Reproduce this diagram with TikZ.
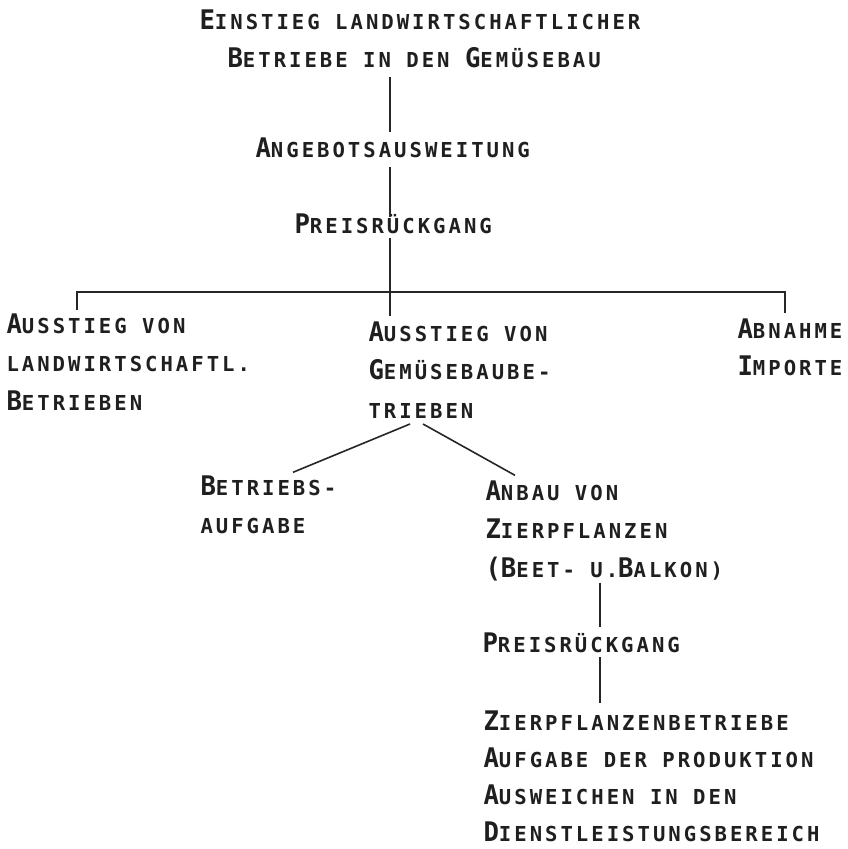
\documentclass[tikz,border=0pt]{standalone}
\usepackage{fontspec}
\newfontfamily\bigf[FakeStretch=0.95]{DejaVuSansMono-Bold.ttf}
\newfontfamily\smallf[LetterSpace=14.6]{DejaVuSansMono-Bold.ttf}
\newcommand\B[1]{{\fontsize{27pt}{27pt}\bigf #1}}
\newcommand\ML[2][38.5pt]{\vtop{\baselineskip=#1\lineskiplimit=-100pt\lineskip=0pt\relax #2}}
\newcommand\txtfont{\fontsize{20.6pt}{38.5pt}\smallf\spaceskip=15.4pt\xspaceskip=15.4pt\relax}
\tikzset{
  txt/.style={anchor=base west, inner sep=0pt, outer sep=0pt, font=\txtfont, text=black!88},
  conn/.style={line width=1.6pt, black!85}
}
\begin{document}
\begin{tikzpicture}[x=1pt,y=-1pt]
\fill[white] (0,0) rectangle (847,849);
\useasboundingbox (0,0) rectangle (847,849);

\node[txt] (title) at (199.5,29) {\ML{\hbox{\B{E}INSTIEG LANDWIRTSCHAFTLICHER}\hbox{\hskip28pt\B{B}ETRIEBE IN DEN \B{G}EMÜSEBAU}}};
\node[txt] (ang) at (255.5,157) {\B{A}NGEBOTSAUSWEITUNG};
\node[txt] (pr1) at (294.5,233) {\B{P}REISRÜCKGANG};
\node[txt] (left) at (6.5,333) {\ML{\hbox{\B{A}USSTIEG VON}\hbox{LANDWIRTSCHAFTL.}\hbox{\B{B}ETRIEBEN}}};
\node[txt] (mid) at (368.5,341) {\ML{\hbox{\B{A}USSTIEG VON}\hbox{\B{G}EMÜSEBAUBE-}\hbox{TRIEBEN}}};
\node[txt] (right) at (737.5,338) {\ML[37pt]{\hbox{\B{A}BNAHME}\hbox{\B{I}MPORTE}}};
\node[txt] (betr) at (200.5,495) {\ML{\hbox{\B{B}ETRIEBS-}\hbox{AUFGABE}}};
\node[txt] (anbau) at (485.5,500) {\ML{\hbox{\B{A}NBAU VON}\hbox{\B{Z}IERPFLANZEN}\hbox{\B{(B}EET- U.\B{B}ALKON)}}};
\node[txt] (pr2) at (482.5,652) {\B{P}REISRÜCKGANG};
\node[txt] (zb) at (483.5,730) {\ML[37.3pt]{\hbox{\B{Z}IERPFLANZENBETRIEBE}\hbox{\B{A}UFGABE DER PRODUKTION}\hbox{\B{A}USWEICHEN IN DEN}\hbox{\B{D}IENSTLEISTUNGSBEREICH}}};

\coordinate (vx) at (390,0);
\coordinate (vx2) at (600,0);
\coordinate (lx) at (77,0);
\coordinate (rx) at (785,0);
\coordinate (hy) at (0,292);
\coordinate (mlx) at (410,0);
\coordinate (mrx) at (423,0);
\coordinate (bx) at (293,0);
\coordinate (ax) at (515,0);

\draw[conn] ([yshift=-9pt]title.south -| vx) -- ([yshift=5pt]ang.north -| vx);
\draw[conn] ([yshift=-10pt]ang.base -| vx) -- ([yshift=-3.7pt]pr1.north -| vx);
\draw[conn] ([yshift=-5pt]pr1.south -| vx) -- ([yshift=5.3pt]mid.north -| vx);
\draw[conn] ([yshift=3pt]left.north -| lx) -- (hy -| lx) -- (hy -| rx) -- ([yshift=5pt]right.north -| rx);
\draw[conn] ([yshift=-6pt]mid.south -| mlx) -- ([yshift=3pt]betr.north -| bx);
\draw[conn] ([yshift=-6pt]mid.south -| mrx) -- ([yshift=5pt]anbau.north -| ax);
\draw[conn] ([yshift=-2pt]anbau.south -| vx2) -- ([yshift=5pt]pr2.north -| vx2);
\draw[conn] ([yshift=-5pt]pr2.south -| vx2) -- ([yshift=7pt]zb.north -| vx2);
\end{tikzpicture}
\end{document}
